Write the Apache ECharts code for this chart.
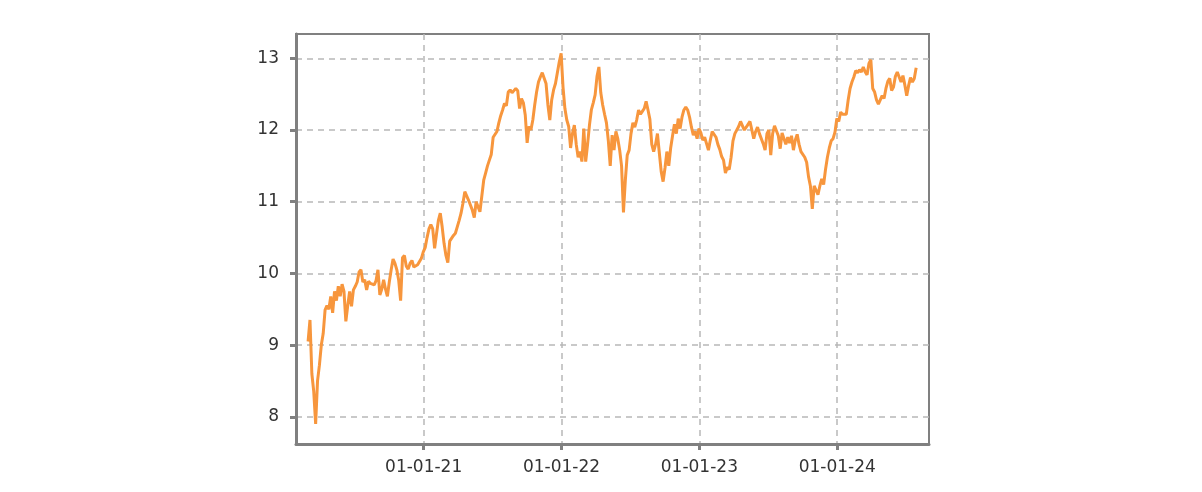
<!DOCTYPE html>
<html>
<head>
<meta charset="utf-8">
<script src="https://cdn.jsdelivr.net/npm/echarts@6/dist/echarts.min.js"></script>
<style>
html,body{margin:0;padding:0;background:#fff;}
#chart{width:1202px;height:492px;}
</style>
</head>
<body>
<div id="chart"></div>
<script>
const startDate = [2020, 2, 1];
const stepDays = 5;
const values = [
  9.05, 9.35, 8.6, 8.35, 7.9, 8.5, 8.72, 9.0, 9.16, 9.49,
  9.55, 9.50, 9.68, 9.45, 9.75, 9.62, 9.82, 9.68, 9.85, 9.75,
  9.33, 9.55, 9.75, 9.54, 9.77, 9.82, 9.88, 10.02, 10.05, 9.88,
  9.91, 9.77, 9.89, 9.86, 9.88, 9.84, 9.90, 10.05, 9.70, 9.78,
  9.91, 9.78, 9.68, 9.88, 10.05, 10.20, 10.14, 10.05, 9.90, 9.62,
  10.22, 10.25, 10.10, 10.06, 10.14, 10.18, 10.09, 10.10, 10.12, 10.12,
  10.21, 10.30, 10.36, 10.50, 10.62, 10.68, 10.62, 10.35, 10.55, 10.74,
  10.84, 10.65, 10.42, 10.25, 10.15, 10.45, 10.47, 10.53, 10.56, 10.65,
  10.74, 10.84, 10.98, 11.14, 11.12, 11.02, 10.95, 10.88, 10.78, 11.0,
  11.0, 10.86, 11.08, 11.30, 11.40, 11.50, 11.58, 11.66, 11.90, 11.88,
  11.98, 12.10, 12.20, 12.28, 12.37, 12.34, 12.53, 12.56, 12.52, 12.55,
  12.58, 12.55, 12.30, 12.44, 12.38, 12.21, 11.82, 12.05, 12.0, 12.14,
  12.35, 12.53, 12.67, 12.74, 12.80, 12.82, 12.65, 12.35, 12.14, 12.42,
  12.56, 12.65, 12.80, 12.95, 13.07, 12.60, 12.30, 12.14, 12.05, 11.75,
  11.95, 12.07, 11.80, 11.62, 11.70, 11.56, 12.02, 11.56, 11.80, 12.07,
  12.28, 12.38, 12.49, 12.75, 12.88, 12.52, 12.35, 12.22, 12.10, 11.85,
  11.50, 11.93, 11.72, 11.98, 11.88, 11.72, 11.50, 10.85, 11.30, 11.65,
  11.72, 11.95, 12.10, 12.04, 12.14, 12.28, 12.22, 12.26, 12.30, 12.40,
  12.28, 12.15, 11.80, 11.70, 11.80, 11.95, 11.68, 11.42, 11.28, 11.47,
  11.70, 11.50, 11.75, 11.92, 12.08, 11.95, 12.16, 12.02, 12.18, 12.28,
  12.32, 12.28, 12.18, 12.04, 11.93, 11.98, 11.88, 12.02, 11.96, 11.86,
  11.90, 11.81, 11.72, 11.86, 11.98, 11.96, 11.90, 11.80, 11.73, 11.63,
  11.58, 11.40, 11.48, 11.45, 11.62, 11.85, 11.95, 11.95, 12.05, 12.12,
  12.12, 12.0, 12.02, 12.08, 12.12, 12.12, 11.88, 11.98, 12.04, 11.95,
  11.96, 11.81, 11.72, 11.95, 12.0, 11.65, 11.95, 12.06, 12.06, 11.92,
  11.74, 11.96, 11.98, 11.80, 11.90, 11.82, 11.92, 11.72, 11.86, 11.94,
  11.80, 11.70, 11.72, 11.62, 11.55, 11.35, 11.22, 10.90, 11.22, 11.16,
  11.10, 11.22, 11.32, 11.24, 11.45, 11.62, 11.75, 11.85, 11.88, 11.97,
  12.16, 12.12, 12.25, 12.22, 12.24, 12.22, 12.42, 12.58, 12.67, 12.74,
  12.83, 12.80, 12.84, 12.81, 12.88, 12.81, 12.77, 12.93, 12.98, 12.58,
  12.53, 12.42, 12.36, 12.42, 12.48, 12.44, 12.58, 12.68, 12.72, 12.55,
  12.60, 12.75, 12.81, 12.74, 12.67, 12.76, 12.63, 12.48, 12.62, 12.73,
  12.67, 12.72, 12.87
];
const yTicks = [8, 9, 10, 11, 12, 13];
const xTickDates = [[2021, 0, 1], [2022, 0, 1], [2023, 0, 1], [2024, 0, 1]];
const xRange = [[2020, 0, 29], [2024, 7, 31]];
const yRange = [7.62, 13.34];

const DAY = 86400000;
const t0 = new Date(startDate[0], startDate[1], startDate[2]).getTime();
const seriesData = values.map((v, i) => [t0 + i * stepDays * DAY, v]);
const xTicks = xTickDates.map(d => new Date(d[0], d[1], d[2]).getTime());
const pad = n => (n < 10 ? '0' : '') + n;

const chart = echarts.init(document.getElementById('chart'), null, {renderer: 'canvas'});
const axisColor = '#808080';
const labelStyle = {color: '#333', fontSize: 17, fontFamily: 'DejaVu Sans'};
chart.setOption({
  animation: false,
  grid: {left: 296, right: 273, top: 34, bottom: 48, show: true, borderColor: axisColor, borderWidth: 2, backgroundColor: 'transparent'},
  xAxis: {
    type: 'value',
    min: new Date(xRange[0][0], xRange[0][1], xRange[0][2]).getTime(),
    max: new Date(xRange[1][0], xRange[1][1], xRange[1][2]).getTime(),
    axisLine: {show: true, lineStyle: {color: axisColor, width: 3}},
    axisTick: {show: true, length: 6, lineStyle: {color: axisColor, width: 3}, customValues: xTicks},
    axisLabel: Object.assign({margin: 15, customValues: xTicks, formatter: v => {
      const d = new Date(v);
      return pad(d.getDate()) + '-' + pad(d.getMonth() + 1) + '-' + String(d.getFullYear()).slice(2);
    }}, labelStyle),
    splitLine: {show: true, lineStyle: {color: '#b8b8b8', width: 1.5, type: [6, 5]}}
  },
  yAxis: {
    type: 'value',
    min: yRange[0],
    max: yRange[1],
    axisLine: {show: true, lineStyle: {color: axisColor, width: 3}},
    axisTick: {show: true, length: 6, lineStyle: {color: axisColor, width: 3}, customValues: yTicks},
    axisLabel: Object.assign({margin: 17, customValues: yTicks}, labelStyle),
    splitLine: {show: true, lineStyle: {color: '#b8b8b8', width: 1.5, type: [6, 5]}}
  },
  series: [{
    type: 'line',
    data: seriesData,
    showSymbol: false,
    symbol: 'none',
    lineStyle: {color: '#f7963d', width: 3},
    itemStyle: {color: '#f7963d'}
  }]
});
</script>
</body>
</html>
